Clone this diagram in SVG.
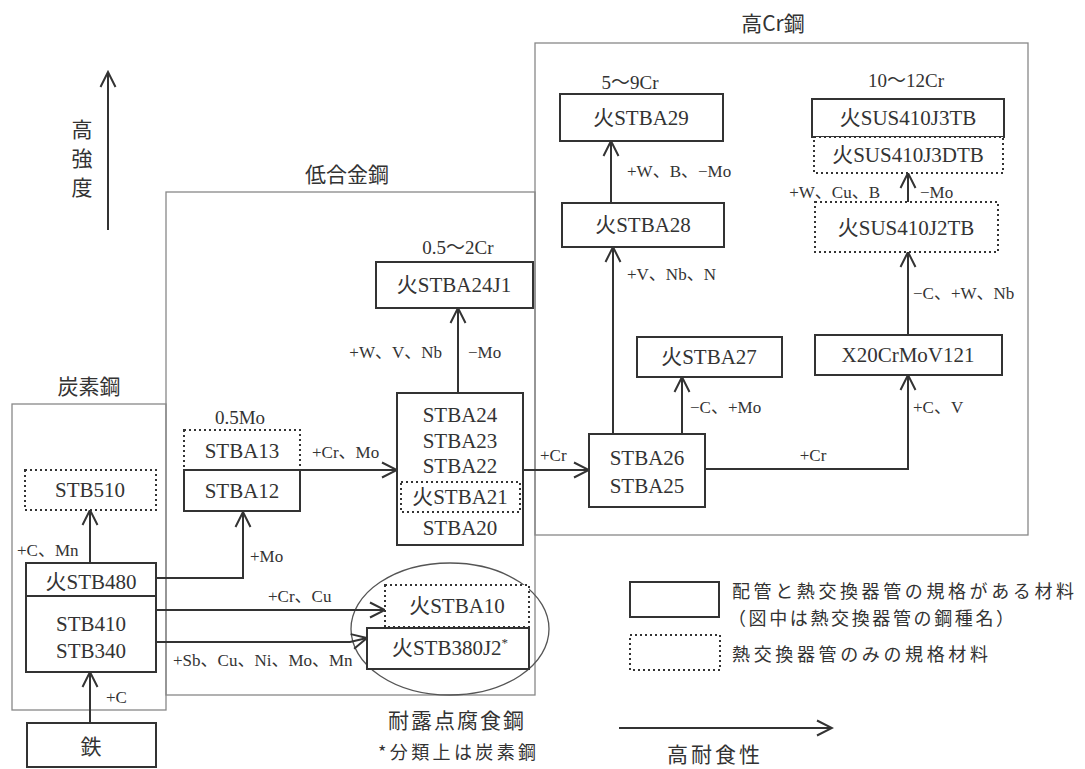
<svg xmlns="http://www.w3.org/2000/svg" width="1085" height="769" viewBox="0 0 1085 769">
<style>
text{font-family:"Liberation Serif","Noto Sans CJK JP",serif;fill:#333;dominant-baseline:central}
.nt{font-size:21px;text-anchor:middle}
.lb{font-size:17px}
.hd{font-size:19px;text-anchor:middle}
.ti{font-family:"Noto Sans CJK JP",sans-serif;font-size:21px;text-anchor:middle}
.lg{font-family:"Noto Sans CJK JP",sans-serif;font-size:18px}
.frame{fill:none;stroke:#888;stroke-width:1.3}
.box{fill:#fff;stroke:#333;stroke-width:2}
.dot{fill:#fff;stroke:#333;stroke-width:2;stroke-dasharray:2 3}
.cn{fill:none;stroke:#333;stroke-width:2;marker-end:url(#ah)}
</style>
<defs>
<marker id="ah" viewBox="0 0 18 18" refX="16" refY="9" markerWidth="18" markerHeight="18" markerUnits="userSpaceOnUse" orient="auto">
<path d="M1,1.5 L16,9 L1,16.5" fill="none" stroke="#333" stroke-width="2"/>
</marker>
</defs>
<rect width="1085" height="769" fill="#fff"/>

<g id="frames">
<rect class="frame" x="12" y="404" width="154" height="306"/>
<rect class="frame" x="166" y="192" width="369" height="503"/>
<rect class="frame" x="535" y="43" width="493" height="492"/>
<ellipse cx="450" cy="629" rx="99" ry="66" fill="none" stroke="#555" stroke-width="1.3"/>
<text class="ti" x="89" y="385">炭素鋼</text>
<text class="ti" x="347" y="173">低合金鋼</text>
<text class="ti" x="773" y="22">高Cr鋼</text>
<text class="ti" x="457" y="719" letter-spacing="2">耐露点腐食鋼</text>
<text class="lg" x="378" y="751" textLength="158" font-size="15">*分類上は炭素鋼</text>
</g>

<g id="axes">
<line x1="108" y1="230" x2="108" y2="72" class="cn"/>
<text class="ti" x="82" y="128" font-size="23">高</text>
<text class="ti" x="82" y="157" font-size="23">強</text>
<text class="ti" x="82" y="186" font-size="23">度</text>
<line x1="619" y1="728" x2="832" y2="728" class="cn"/>
<text class="ti" x="715" y="753" letter-spacing="3" font-size="22">高耐食性</text>
</g>

<g id="connectors">
<line class="cn" x1="90" y1="563" x2="90" y2="510"/>
<line class="cn" x1="90" y1="723" x2="90" y2="672"/>
<polyline class="cn" points="156,578 243,578 243,512"/>
<line class="cn" x1="156" y1="610" x2="385" y2="610"/>
<polyline class="cn" points="156,642 350,642 367,638"/>
<line class="cn" x1="300" y1="470" x2="397" y2="470"/>
<line class="cn" x1="458" y1="393" x2="458" y2="308"/>
<line class="cn" x1="523" y1="470" x2="589" y2="470"/>
<line class="cn" x1="613" y1="434" x2="613" y2="247"/>
<line class="cn" x1="611" y1="203" x2="611" y2="141"/>
<line class="cn" x1="682" y1="434" x2="682" y2="377"/>
<polyline class="cn" points="705,469 908,469 908,375"/>
<line class="cn" x1="908" y1="335" x2="908" y2="252"/>
<line class="cn" x1="908" y1="202" x2="908" y2="173"/>
<text class="lb" x="17" y="550">+C、Mn</text>
<text class="lb" x="106" y="697">+C</text>
<text class="lb" x="250" y="556">+Mo</text>
<text class="lb" x="268" y="596">+Cr、Cu</text>
<text class="lb" x="173" y="660">+Sb、Cu、Ni、Mo、Mn</text>
<text class="lb" x="312" y="452">+Cr、Mo</text>
<text class="lb" x="442" y="352" text-anchor="end">+W、V、Nb</text>
<text class="lb" x="468" y="352">−Mo</text>
<text class="lb" x="540" y="455">+Cr</text>
<text class="lb" x="627" y="171">+W、B、−Mo</text>
<text class="lb" x="627" y="274">+V、Nb、N</text>
<text class="lb" x="690" y="407">−C、+Mo</text>
<text class="lb" x="813" y="455" text-anchor="middle">+Cr</text>
<text class="lb" x="913" y="407">+C、V</text>
<text class="lb" x="913" y="293">−C、+W、Nb</text>
<text class="lb" x="880" y="192" text-anchor="end">+W、Cu、B</text>
<text class="lb" x="920" y="192">−Mo</text>
</g>

<g id="n-stb510"><rect class="dot" x="25" y="470" width="131" height="40"/><text class="nt" x="90" y="490">STB510</text></g>
<g id="n-stb480"><rect class="box" x="26" y="563" width="130" height="33"/><text class="nt" x="91" y="582">火STB480</text></g>
<g id="n-stb410"><rect class="box" x="26" y="596" width="130" height="76"/><text class="nt" x="91" y="624">STB410</text><text class="nt" x="91" y="651">STB340</text></g>
<g id="n-iron"><rect class="box" x="27" y="723" width="129" height="44"/><text class="ti" x="91" y="745" font-size="20">鉄</text></g>

<g id="n-stba13"><rect class="dot" x="184" y="430" width="116" height="40"/><text class="nt" x="242" y="451">STBA13</text></g>
<g id="n-stba12"><rect class="box" x="184" y="470" width="116" height="41"/><text class="nt" x="242" y="491">STBA12</text></g>
<text class="hd" x="240" y="417">0.5Mo</text>

<g id="n-stba2x"><rect class="box" x="397" y="393" width="126" height="152"/>
<text class="nt" x="460" y="415">STBA24</text>
<text class="nt" x="460" y="441">STBA23</text>
<text class="nt" x="460" y="466">STBA22</text>
<rect class="dot" x="401" y="482" width="119" height="30"/>
<text class="nt" x="460" y="497">火STBA21</text>
<text class="nt" x="460" y="528">STBA20</text>
</g>

<g id="n-stba24j1"><rect class="box" x="376" y="262" width="157" height="46"/><text class="nt" x="454" y="285">火STBA24J1</text></g>
<text class="hd" x="458" y="247">0.5～2Cr</text>

<g id="n-stba10"><rect class="dot" x="385" y="585" width="144" height="42"/><text class="nt" x="457" y="606">火STBA10</text></g>
<g id="n-stb380"><rect class="box" x="367" y="628" width="162" height="41"/><text class="nt" x="450" y="648">火STB380J2<tspan font-size="13" dy="-6">*</tspan></text></g>

<text class="hd" x="630" y="82">5～9Cr</text>
<g id="n-stba29"><rect class="box" x="560" y="94" width="163" height="47"/><text class="nt" x="641" y="118">火STBA29</text></g>
<g id="n-stba28"><rect class="box" x="562" y="203" width="162" height="44"/><text class="nt" x="643" y="225">火STBA28</text></g>
<g id="n-stba27"><rect class="box" x="637" y="337" width="145" height="40"/><text class="nt" x="709" y="357">火STBA27</text></g>
<g id="n-stba26"><rect class="box" x="589" y="434" width="116" height="73"/><text class="nt" x="647" y="458">STBA26</text><text class="nt" x="647" y="486">STBA25</text></g>

<text class="hd" x="906" y="80">10～12Cr</text>
<g id="n-sus410j3"><rect class="box" x="812" y="99" width="192" height="38"/><text class="nt" x="908" y="118">火SUS410J3TB</text></g>
<g id="n-sus410j3d"><rect class="dot" x="814" y="137" width="189" height="36"/><text class="nt" x="908" y="155">火SUS410J3DTB</text></g>
<g id="n-sus410j2"><rect class="dot" x="815" y="202" width="183" height="50"/><text class="nt" x="906" y="228">火SUS410J2TB</text></g>
<g id="n-x20"><rect class="box" x="815" y="335" width="187" height="40"/><text class="nt" x="908" y="355">X20CrMoV121</text></g>

<g id="legend">
<rect class="box" x="630" y="582" width="89" height="35"/>
<rect class="dot" x="630" y="635" width="90" height="35"/>
<text class="lg" x="732" y="590" textLength="342">配管と熱交換器管の規格がある材料</text>
<text class="lg" x="728" y="617" textLength="286">（図中は熱交換器管の鋼種名）</text>
<text class="lg" x="732" y="653" textLength="256">熱交換器管のみの規格材料</text>
</g>
</svg>
